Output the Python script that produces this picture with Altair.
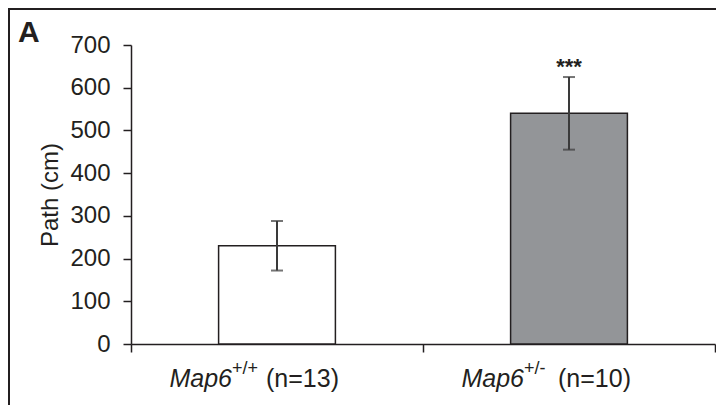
import altair as alt
import pandas as pd

# ---- data ----
genes = ["Map6", "Map6"]
genotypes = ["+/+", "+/-"]
n_labels = ["(n=13)", "(n=10)"]
means = [230, 540]
errors = [58, 85]
significance = ["", "***"]

df = pd.DataFrame({
    "gene": genes,
    "geno": genotypes,
    "nlab": n_labels,
    "mean": means,
    "err": errors,
    "sig": significance,
})
df["mid"] = [i + 0.5 for i in range(len(df))]
df["left"] = df["mid"] - 0.2
df["right"] = df["mid"] + 0.2
df["lo"] = df["mean"] - df["err"]
df["hi"] = df["mean"] + df["err"]
df["kind"] = ["wt", "het"]

FONT = "Liberation Sans"
INK = "#231f20"

xscale = alt.Scale(domain=[0, len(df)], nice=False, zero=False)
yscale = alt.Scale(domain=[0, 700], nice=False)

base = alt.Chart(df)

bars = base.mark_rect(stroke=INK, strokeWidth=1.5).encode(
    x=alt.X("left:Q", scale=xscale,
            axis=alt.Axis(values=[0, 1, 2], labels=False, title=None, grid=False,
                          tickSize=8, domainColor=INK, tickColor=INK,
                          domainWidth=1.5, tickWidth=1.5)),
    x2="right:Q",
    y=alt.Y("mean:Q", scale=yscale,
            axis=alt.Axis(values=list(range(0, 701, 100)), title="Path (cm)", grid=False,
                          tickSize=8, labelPadding=13, labelFontSize=24, labelFont=FONT,
                          labelColor=INK, domainColor=INK, tickColor=INK,
                          domainWidth=1.5, tickWidth=1.5,
                          titleFont=FONT, titleFontSize=24, titleFontWeight="normal",
                          titleColor=INK, titleX=-81, titleY=149.5, titleAngle=-90,
                          titleAlign="center", titleBaseline="middle")),
    y2=alt.datum(0),
    fill=alt.Fill("kind:N", scale=alt.Scale(domain=["wt", "het"], range=["#ffffff", "#939598"]),
                  legend=None),
)

err_rule = base.mark_rule(color="#3a3a3a", strokeWidth=2).encode(
    x="mid:Q", y="lo:Q", y2="hi:Q"
)
cap_lo = base.mark_tick(orient="horizontal", size=12, thickness=2, color="#3a3a3a").encode(
    x="mid:Q", y="lo:Q"
)
cap_hi = base.mark_tick(orient="horizontal", size=12, thickness=2, color="#3a3a3a").encode(
    x="mid:Q", y="hi:Q"
)

stars = base.mark_text(font=FONT, fontSize=22, fontWeight="bold", color=INK,
                       baseline="alphabetic", align="center", dy=-3).encode(
    x="mid:Q", y="hi:Q", text="sig:N"
)

lab_gene = base.mark_text(font=FONT, fontSize=25, fontStyle="italic", color=INK,
                          align="right", baseline="alphabetic", dx=-45, dy=43).encode(
    x="mid:Q", y=alt.datum(0), text="gene:N"
)
lab_sup = base.mark_text(font=FONT, fontSize=18, color=INK,
                         align="left", baseline="alphabetic", dx=-45, dy=30).encode(
    x="mid:Q", y=alt.datum(0), text="geno:N"
)
lab_n = base.mark_text(font=FONT, fontSize=25, color=INK,
                       align="right", baseline="alphabetic", dx=62, dy=43).encode(
    x="mid:Q", y=alt.datum(0), text="nlab:N"
)

frame_df = pd.DataFrame({"f": [0]})
frame = alt.Chart(frame_df).mark_rect(fill="transparent", stroke=INK, strokeWidth=2).encode(
    x=alt.value(-122), x2=alt.value(700), y=alt.value(-36), y2=alt.value(500)
)
panel = alt.Chart(frame_df).mark_text(font=FONT, fontSize=30, fontWeight="bold", color=INK,
                                      align="left", baseline="alphabetic").encode(
    x=alt.value(-113), y=alt.value(-3), text=alt.value("A")
)

chart = alt.layer(
    bars, err_rule, cap_lo, cap_hi, stars, lab_gene, lab_sup, lab_n, frame, panel
).properties(
    width=584, height=299,
    padding={"left": 123, "top": 37, "right": 1, "bottom": 61},
    autosize=alt.AutoSizeParams(type="none"),
    background="white",
).configure_view(stroke=None)

chart.save("out.html", embed_options={"renderer": "svg", "actions": False})
